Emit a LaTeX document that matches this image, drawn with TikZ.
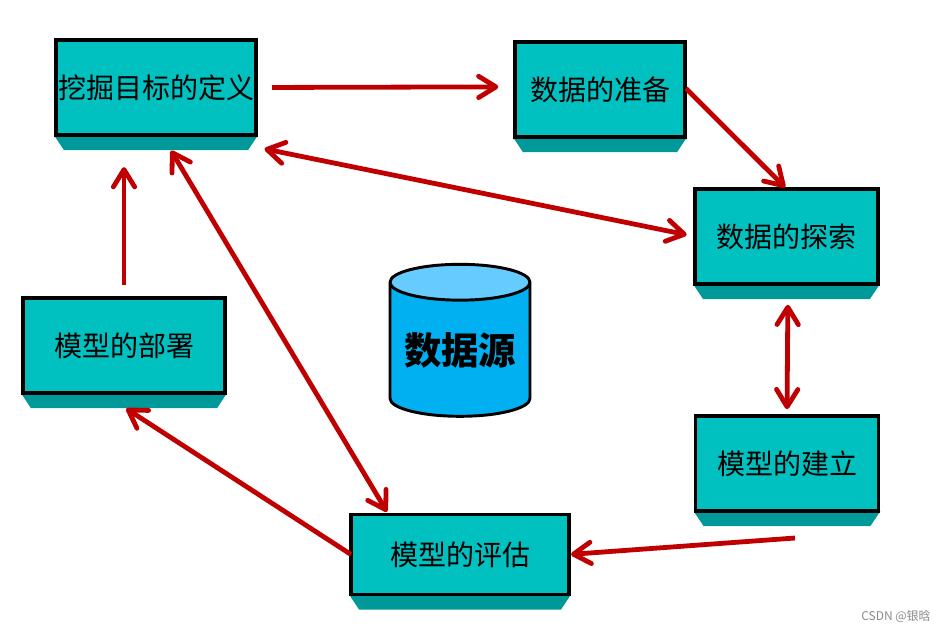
\documentclass[tikz,border=0pt]{standalone}
\usepackage{fontspec}
\setmainfont{Noto Sans CJK SC}
\usetikzlibrary{arrows.meta,shapes.geometric,calc,backgrounds}
\definecolor{boxteal}{HTML}{00C0C0}
\definecolor{bevelteal}{HTML}{009999}
\definecolor{arrred}{HTML}{C00000}
\definecolor{srcblue}{HTML}{00B0F0}
\definecolor{srctop}{HTML}{66CCFF}

\begin{document}
\begin{tikzpicture}[
    x=0.75pt, y=-0.75pt,
    box/.style={draw, line width=2.6pt, fill=boxteal, outer sep=0pt, inner sep=0pt,
                minimum height=71.5pt, text centered, font=\fontsize{21}{25}\selectfont},
    bevel/.style={fill=bevelteal},
    arr/.style={-{Straight Barb[round,length=13pt,width=16pt]}, line width=3.6pt, arrred},
    dblarr/.style={{Straight Barb[round,length=13pt,width=16pt]}-{Straight Barb[round,length=13pt,width=16pt]},
                   line width=3.6pt, arrred}
  ]
  \useasboundingbox (0,0) rectangle (945,631);

  \node (def)     [box, minimum width=150pt]   at (156,87.5)  {挖掘目标的定义};
  \node (prep)    [box, minimum width=127.5pt] at (600,89.5)  {数据的准备};
  \node (explore) [box, minimum width=137pt]   at (786.5,236.5) {数据的探索};
  \node (build)   [box, minimum width=137pt]   at (787,463.5) {模型的建立};
  \node (eval)    [box, minimum width=163.5pt, minimum height=60pt] at (460,554.5) {模型的评估};
  \node (deploy)  [box, minimum width=151.5pt] at (124,345.5) {模型的部署};

  \node (src) [cylinder, shape border rotate=90, aspect=0.32, draw, line width=2.2pt,
               cylinder uses custom fill, cylinder body fill=srcblue, cylinder end fill=srctop,
               minimum width=105pt, minimum height=114pt, inner sep=0pt,
               font=\fontsize{28}{32}\selectfont\bfseries] at (460,350) {数据源};

  \node (mark) [text=black!45, font=\fontsize{9}{11}\selectfont] at (896,616) {CSDN @银晗};

  \begin{scope}[on background layer]
    \fill[white] (0,0) rectangle (945,631);
    \foreach \n in {def,prep,explore,build,eval,deploy}
      \fill[bevel] ($(\n.south west)+(-2,0)$) -- ($(\n.south west)+(8,15)$) -- ($(\n.south east)+(-8,15)$) -- ($(\n.south east)+(2,0)$) -- cycle;
  \end{scope}

  \coordinate (buildout) at (795,538);

  \draw[arr, shorten <=12pt, shorten >=12.5pt] (def.east) -- ([yshift=2pt]prep.west);
  \draw[arr, shorten <=1pt, shorten >=1.5pt] ([yshift=1.5pt]prep.east) -- (explore.north);
  \draw[dblarr, shorten <=6.5pt, shorten >=6.5pt] ($(def.south east)+(0,12)$) -- (explore.west);
  \draw[dblarr, shorten <=15.5pt, shorten >=5pt] ($(explore.south)+(1.5,0)$) -- (build.north);
  \draw[arr, shorten >=1.5pt] (buildout) -- (eval.east);
  \draw[arr, shorten >=2pt] (eval.west) -- ($(deploy.south)+(0,14)$);
  \draw[dblarr, shorten <=1.5pt, shorten >=3pt] ($(eval.north)+(-72,-1)$) -- ($(def.south)+(13,12)$);
  \draw[arr, shorten <=9.5pt, shorten >=24pt] (deploy.north) -- (deploy.north |- def.south);
\end{tikzpicture}
\end{document}
